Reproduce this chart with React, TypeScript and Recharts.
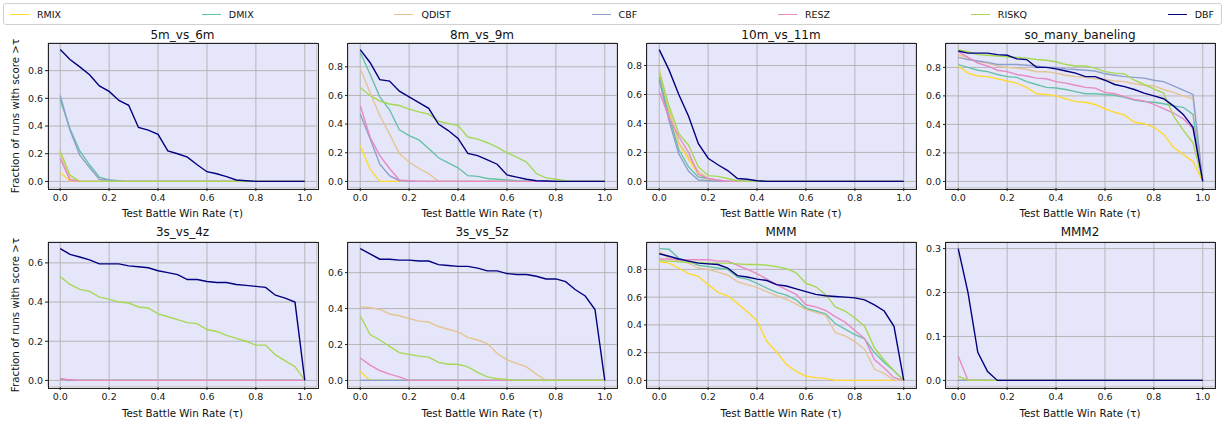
import React from "react";
import { LineChart, Line, XAxis, YAxis, CartesianGrid } from "recharts";

const TAU = [0, 0.04, 0.08, 0.12, 0.16, 0.2, 0.24, 0.28, 0.32, 0.36, 0.4, 0.44, 0.48, 0.52, 0.56, 0.6, 0.64, 0.68, 0.72, 0.76, 0.8, 0.84, 0.88, 0.92, 0.96, 1.0];
const X_TICKS = [0, 0.2, 0.4, 0.6, 0.8, 1.0];
const SERIES = ["RMIX", "DMIX", "QDIST", "CBF", "RESZ", "RISKQ", "DBF"];
const COLORS: Record<string, string> = {
  RMIX: "#ffd92f", DMIX: "#66c2a5", QDIST: "#e5c494", CBF: "#8da0cb",
  RESZ: "#e78ac3", RISKQ: "#a6d854", DBF: "#000080",
};
const Z = (n: number) => new Array(n).fill(0);

// 5m_vs_6m
const m5v6 = {
  RMIX: [0.065, 0.005, ...Z(24)],
  DMIX: [0.59, 0.38, 0.22, 0.12, 0.03, 0.01, 0.005, ...Z(19)],
  QDIST: [0.19, 0.02, ...Z(24)],
  CBF: [0.62, 0.37, 0.19, 0.10, 0.015, 0.01, ...Z(20)],
  RESZ: [0.165, 0.01, ...Z(24)],
  RISKQ: [0.22, 0.045, ...Z(24)],
  DBF: [0.952, 0.88, 0.827, 0.77, 0.69, 0.65, 0.585, 0.55, 0.39, 0.37, 0.34, 0.22, 0.20, 0.175, 0.12, 0.07, 0.055, 0.035, 0.01, 0.005, ...Z(6)],
};
// 8m_vs_9m
const m8v9 = {
  RMIX: [0.25, 0.085, ...Z(24)],
  DMIX: [0.90, 0.75, 0.59, 0.50, 0.36, 0.32, 0.29, 0.23, 0.165, 0.13, 0.095, 0.04, 0.035, 0.02, 0.015, 0.01, 0.005, 0.003, ...Z(8)],
  QDIST: [0.79, 0.62, 0.46, 0.33, 0.195, 0.135, 0.09, 0.055, ...Z(18)],
  CBF: [0.47, 0.30, 0.12, 0.04, 0.005, ...Z(21)],
  RESZ: [0.53, 0.31, 0.18, 0.09, 0.01, 0.005, ...Z(20)],
  RISKQ: [0.655, 0.60, 0.56, 0.54, 0.53, 0.505, 0.485, 0.47, 0.42, 0.405, 0.39, 0.31, 0.295, 0.27, 0.24, 0.20, 0.17, 0.135, 0.055, 0.025, 0.015, 0.005, ...Z(4)],
  DBF: [0.92, 0.83, 0.71, 0.70, 0.63, 0.59, 0.55, 0.51, 0.40, 0.355, 0.30, 0.195, 0.18, 0.15, 0.12, 0.045, 0.03, 0.015, 0.005, 0.003, ...Z(6)],
};
// 10m_vs_11m
const m10v11 = {
  RMIX: [0.74, 0.48, 0.26, 0.15, 0.05, 0.015, 0.005, ...Z(19)],
  DMIX: [0.72, 0.45, 0.22, 0.10, 0.03, 0.02, 0.005, ...Z(19)],
  QDIST: [0.78, 0.50, 0.27, 0.17, 0.07, 0.02, 0.01, ...Z(19)],
  CBF: [0.70, 0.42, 0.19, 0.07, 0.01, 0.005, ...Z(20)],
  RESZ: [0.62, 0.44, 0.31, 0.20, 0.05, 0.02, 0.01, ...Z(19)],
  RISKQ: [0.75, 0.52, 0.33, 0.25, 0.10, 0.04, 0.035, 0.02, 0.005, ...Z(17)],
  DBF: [0.91, 0.77, 0.60, 0.45, 0.26, 0.16, 0.115, 0.075, 0.02, 0.015, 0.005, ...Z(15)],
};
// so_many_baneling
const baneling = {
  RMIX: [0.81, 0.76, 0.74, 0.735, 0.72, 0.705, 0.69, 0.66, 0.615, 0.61, 0.60, 0.58, 0.56, 0.555, 0.54, 0.51, 0.485, 0.465, 0.415, 0.405, 0.38, 0.33, 0.24, 0.19, 0.14, 0],
  DMIX: [0.82, 0.80, 0.78, 0.77, 0.75, 0.735, 0.73, 0.70, 0.68, 0.66, 0.655, 0.645, 0.63, 0.615, 0.615, 0.61, 0.605, 0.59, 0.57, 0.56, 0.555, 0.545, 0.53, 0.52, 0.47, 0],
  QDIST: [0.89, 0.865, 0.84, 0.83, 0.81, 0.80, 0.795, 0.785, 0.77, 0.77, 0.76, 0.745, 0.735, 0.73, 0.72, 0.715, 0.705, 0.70, 0.685, 0.675, 0.67, 0.645, 0.625, 0.60, 0.58, 0],
  CBF: [0.87, 0.855, 0.845, 0.835, 0.82, 0.82, 0.82, 0.815, 0.81, 0.80, 0.80, 0.79, 0.785, 0.78, 0.775, 0.755, 0.745, 0.735, 0.73, 0.725, 0.71, 0.70, 0.67, 0.64, 0.61, 0],
  RESZ: [0.91, 0.87, 0.83, 0.81, 0.78, 0.77, 0.75, 0.74, 0.725, 0.72, 0.70, 0.69, 0.675, 0.66, 0.655, 0.625, 0.615, 0.595, 0.575, 0.565, 0.54, 0.51, 0.48, 0.44, 0.37, 0],
  RISKQ: [0.925, 0.91, 0.89, 0.885, 0.88, 0.875, 0.87, 0.865, 0.855, 0.85, 0.84, 0.82, 0.81, 0.81, 0.795, 0.77, 0.76, 0.755, 0.71, 0.68, 0.65, 0.62, 0.46, 0.36, 0.27, 0],
  DBF: [0.915, 0.90, 0.90, 0.90, 0.89, 0.885, 0.86, 0.855, 0.80, 0.80, 0.79, 0.775, 0.76, 0.735, 0.735, 0.71, 0.68, 0.665, 0.645, 0.62, 0.60, 0.58, 0.53, 0.47, 0.38, 0],
};
// 3s_vs_4z
const s3v4 = {
  RMIX: Z(26),
  DMIX: Z(26),
  QDIST: Z(26),
  CBF: [0.005, ...Z(25)],
  RESZ: [0.01, 0.003, ...Z(24)],
  RISKQ: [0.53, 0.49, 0.465, 0.455, 0.425, 0.415, 0.40, 0.395, 0.375, 0.37, 0.34, 0.325, 0.31, 0.295, 0.29, 0.26, 0.25, 0.23, 0.215, 0.20, 0.18, 0.18, 0.13, 0.10, 0.07, 0],
  DBF: [0.673, 0.643, 0.63, 0.615, 0.595, 0.595, 0.595, 0.585, 0.58, 0.575, 0.56, 0.55, 0.54, 0.515, 0.515, 0.505, 0.50, 0.50, 0.49, 0.485, 0.48, 0.475, 0.435, 0.42, 0.40, 0],
};
// 3s_vs_5z
const s3v5 = {
  RMIX: [0.05, ...Z(25)],
  DMIX: Z(26),
  QDIST: [0.41, 0.405, 0.395, 0.37, 0.36, 0.345, 0.33, 0.325, 0.30, 0.285, 0.27, 0.24, 0.225, 0.205, 0.15, 0.115, 0.095, 0.075, 0.035, ...Z(7)],
  CBF: Z(26),
  RESZ: [0.125, 0.085, 0.055, 0.035, 0.02, ...Z(21)],
  RISKQ: [0.36, 0.255, 0.225, 0.19, 0.155, 0.145, 0.135, 0.13, 0.10, 0.09, 0.09, 0.075, 0.045, 0.02, 0.01, 0.005, ...Z(10)],
  DBF: [0.734, 0.705, 0.675, 0.675, 0.67, 0.67, 0.665, 0.665, 0.645, 0.64, 0.635, 0.635, 0.625, 0.61, 0.61, 0.595, 0.59, 0.59, 0.58, 0.565, 0.565, 0.55, 0.505, 0.47, 0.395, 0],
};
// MMM
const mmm = {
  RMIX: [0.855, 0.845, 0.81, 0.77, 0.75, 0.69, 0.635, 0.61, 0.555, 0.495, 0.43, 0.28, 0.205, 0.115, 0.065, 0.03, 0.02, 0.015, ...Z(8)],
  DMIX: [0.95, 0.945, 0.88, 0.86, 0.83, 0.82, 0.81, 0.80, 0.745, 0.73, 0.70, 0.665, 0.635, 0.615, 0.58, 0.52, 0.50, 0.48, 0.41, 0.37, 0.33, 0.30, 0.20, 0.13, 0.07, 0],
  QDIST: [0.93, 0.88, 0.86, 0.845, 0.81, 0.80, 0.78, 0.76, 0.71, 0.69, 0.67, 0.64, 0.61, 0.585, 0.55, 0.51, 0.49, 0.47, 0.345, 0.32, 0.28, 0.225, 0.08, 0.05, 0, 0],
  RESZ: [0.875, 0.875, 0.87, 0.87, 0.87, 0.87, 0.86, 0.86, 0.83, 0.80, 0.77, 0.73, 0.69, 0.655, 0.62, 0.545, 0.53, 0.505, 0.46, 0.42, 0.36, 0.30, 0.15, 0.09, 0.02, 0],
  RISKQ: [0.863, 0.86, 0.855, 0.85, 0.85, 0.845, 0.845, 0.845, 0.84, 0.835, 0.835, 0.83, 0.82, 0.805, 0.775, 0.70, 0.675, 0.62, 0.53, 0.50, 0.45, 0.39, 0.235, 0.145, 0.07, 0],
  DBF: [0.913, 0.895, 0.875, 0.86, 0.845, 0.84, 0.835, 0.81, 0.755, 0.745, 0.73, 0.72, 0.69, 0.68, 0.66, 0.64, 0.62, 0.61, 0.605, 0.60, 0.595, 0.58, 0.545, 0.50, 0.39, 0],
};
// MMM2
const mmm2 = {
  RMIX: Z(26),
  DMIX: Z(26),
  QDIST: Z(26),
  CBF: Z(26),
  RESZ: [0.055, ...Z(25)],
  RISKQ: [0.01, ...Z(25)],
  DBF: [0.30, 0.20, 0.064, 0.02, ...Z(22)],
};

const PANELS = [
  { title: "5m_vs_6m", d: m5v6, yTicks: [0, 0.2, 0.4, 0.6, 0.8] },
  { title: "8m_vs_9m", d: m8v9, yTicks: [0, 0.2, 0.4, 0.6, 0.8] },
  { title: "10m_vs_11m", d: m10v11, yTicks: [0, 0.2, 0.4, 0.6, 0.8] },
  { title: "so_many_baneling", d: baneling, yTicks: [0, 0.2, 0.4, 0.6, 0.8] },
  { title: "3s_vs_4z", d: s3v4, yTicks: [0, 0.2, 0.4, 0.6] },
  { title: "3s_vs_5z", d: s3v5, yTicks: [0, 0.2, 0.4, 0.6] },
  { title: "MMM", d: mmm, yTicks: [0, 0.2, 0.4, 0.6, 0.8] },
  { title: "MMM2", d: mmm2, yTicks: [0, 0.1, 0.2, 0.3] },
];

const FONT = "'DejaVu Sans', sans-serif";
const COL_LEFT = [48, 347.5, 646.5, 945.5];
const ROW_TOP = [43, 242];
const AX_W = 269;
const AX_H = 145;
const Y_LABEL = "Fraction of runs with score >\u03c4";
const X_LABEL = "Test Battle Win Rate (\u03c4)";

function Panel({ p, idx }: { p: any; idx: number }) {
  const col = idx % 4;
  const row = Math.floor(idx / 4);
  const axL = COL_LEFT[col];
  const axT = ROW_TOP[row];
  const keys = SERIES.filter((k) => p.d[k]);
  const rows = TAU.map((x, i) => {
    const r: any = { x };
    keys.forEach((k) => (r[k] = p.d[k][i]));
    return r;
  });
  let mx = 0;
  keys.forEach((k) => p.d[k].forEach((v: number) => (mx = Math.max(mx, v))));
  const domain = [-0.05 * mx, 1.05 * mx];
  const tickStyle = { fontSize: 9.5, fill: "#1a1a1a", fontFamily: FONT };
  return (
    <>
      <div style={{ position: "absolute", left: axL - 40, top: axT - 10 }}>
        <LineChart width={319} height={185} data={rows} margin={{ top: 10, right: 10, bottom: 0, left: 10 }}>
          <CartesianGrid stroke="#b0b0b0" strokeWidth={0.9} fill="#e6e6fa" fillOpacity={1} />
          <XAxis
            type="number"
            dataKey="x"
            domain={[-0.05, 1.05]}
            ticks={X_TICKS}
            interval={0}
            allowDataOverflow
            height={30}
            tickSize={3}
            tickMargin={3}
            axisLine={false}
            tickLine={{ stroke: "#222" }}
            tick={tickStyle}
            tickFormatter={(v: number) => v.toFixed(1)}
          />
          <YAxis
            type="number"
            domain={domain}
            ticks={p.yTicks}
            interval={0}
            allowDataOverflow
            width={30}
            tickSize={3}
            tickMargin={2}
            axisLine={false}
            tickLine={{ stroke: "#222" }}
            tick={tickStyle}
            tickFormatter={(v: number) => v.toFixed(1)}
          />
          {keys.map((k) => (
            <Line
              key={k}
              type="linear"
              dataKey={k}
              stroke={COLORS[k]}
              strokeWidth={1.4}
              dot={false}
              activeDot={false}
              isAnimationActive={false}
            />
          ))}
        </LineChart>
      </div>
      <div
        style={{
          position: "absolute", left: axL - 0.5, top: axT - 0.5, width: AX_W, height: AX_H,
          border: "1px solid #222", pointerEvents: "none",
        }}
      />
      <div
        style={{
          position: "absolute", left: axL, top: (row === 0 ? 35 : 232) - 8, width: AX_W, height: 16,
          lineHeight: "16px", textAlign: "center", fontFamily: FONT, fontSize: 12, color: "#111",
        }}
      >
        {p.title}
      </div>
      <div
        style={{
          position: "absolute", left: axL, top: (row === 0 ? 213 : 412.5) - 7, width: AX_W, height: 14,
          lineHeight: "14px", textAlign: "center", fontFamily: FONT, fontSize: 10.3, color: "#111",
        }}
      >
        {X_LABEL}
      </div>
    </>
  );
}

export default function App() {
  return (
    <div style={{ position: "absolute", left: 0, top: 0, width: 1225, height: 427, background: "#fff", overflow: "hidden" }}>
      <div
        style={{
          position: "absolute", left: 3, top: 3, width: 1219, height: 22, border: "1px solid #d0d0d0",
          borderRadius: 3, background: "#fff", display: "flex", justifyContent: "space-between",
          alignItems: "center", padding: "0 7px 0 6px", boxSizing: "border-box",
        }}
      >
        {SERIES.map((k) => (
          <div key={k} style={{ display: "flex", alignItems: "center" }}>
            <span style={{ display: "inline-block", width: 19, height: 0, borderTop: `1.5px solid ${COLORS[k]}`, marginRight: 8 }} />
            <span style={{ fontFamily: FONT, fontSize: 9.5, color: "#111" }}>{k}</span>
          </div>
        ))}
      </div>
      {PANELS.map((p, i) => (
        <Panel key={p.title} p={p} idx={i} />
      ))}
      {[115.5, 314.5].map((cy) => (
        <div
          key={cy}
          style={{
            position: "absolute", left: 15 - 100, top: cy - 7, width: 200, height: 14, lineHeight: "14px",
            textAlign: "center", fontFamily: FONT, fontSize: 10.3, color: "#111", transform: "rotate(-90deg)",
            whiteSpace: "nowrap",
          }}
        >
          {Y_LABEL}
        </div>
      ))}
    </div>
  );
}
